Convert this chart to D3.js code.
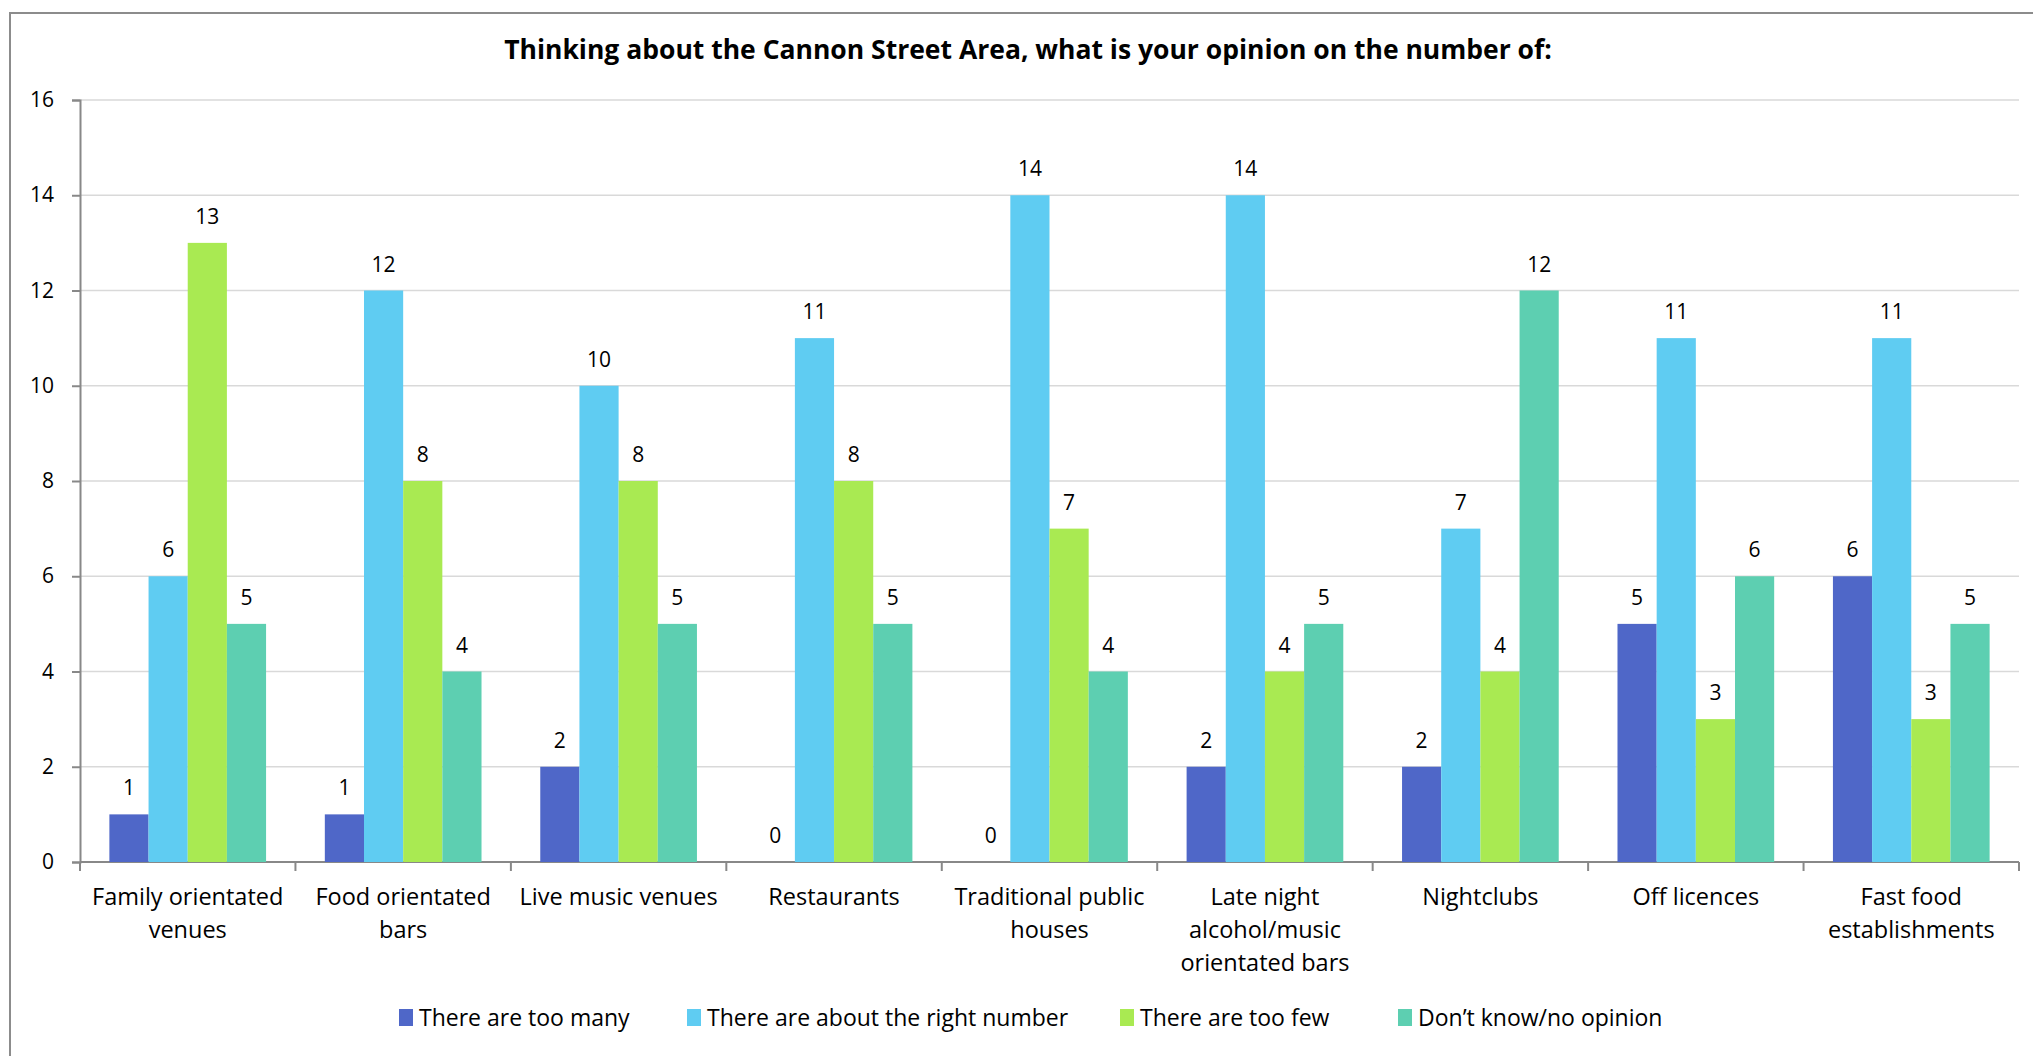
<!DOCTYPE html>
<html>
<head>
<meta charset="utf-8">
<script src="https://cdn.jsdelivr.net/npm/d3@7"></script>
<style>
  body { margin: 0; background: #fff; }
  svg { display: block; font-family: "Open Sans", sans-serif; }
</style>
</head>
<body>
<svg id="chart"></svg>
<script>
// categories (each one split into its printed lines)
var categories = [
    ["Family orientated", "venues"],
    ["Food orientated", "bars"],
    ["Live music venues"],
    ["Restaurants"],
    ["Traditional public", "houses"],
    ["Late night", "alcohol/music", "orientated bars"],
    ["Nightclubs"],
    ["Off licences"],
    ["Fast food", "establishments"]
];
var seriesNames = ["There are too many", "There are about the right number", "There are too few", "Don\u2019t know/no opinion"];
var tooMany    = [1, 1, 2, 0, 0, 2, 2, 5, 6];
var rightNum   = [6, 12, 10, 11, 14, 14, 7, 11, 11];
var tooFew     = [13, 8, 8, 8, 7, 4, 4, 3, 3];
var dontKnow   = [5, 4, 5, 5, 4, 5, 12, 6, 5];
var yTicks     = [0, 2, 4, 6, 8, 10, 12, 14, 16];
var colors     = ["#4f67c8", "#5fccf2", "#a9ea52", "#5dcfb1"];

var title = "Thinking about the Cannon Street Area, what is your opinion on the number of:";

var width = 2033, height = 1056;
var margin = {top: 100, left: 80, right: 14, bottom: 194};

var svg = d3.select("#chart")
    .attr("width", width)
    .attr("height", height);

// outer frame of the embedded chart (runs past the page edges)
svg.append("rect")
    .attr("x", 10).attr("y", 13)
    .attr("width", width + 20).attr("height", height + 20)
    .attr("fill", "none")
    .attr("stroke", "#8c8c8c")
    .attr("stroke-width", 2);

var keys = categories.map(function (c) { return c.join(" "); });
var series = [tooMany, rightNum, tooFew, dontKnow];

var x0 = d3.scaleBand()
    .domain(keys)
    .range([margin.left, width - margin.right])
    .paddingInner(0).paddingOuter(0);

var x1 = d3.scaleBand()
    .domain(d3.range(series.length))
    .range([0, x0.bandwidth()])
    .paddingInner(0).paddingOuter(0.75);

var y = d3.scaleLinear()
    .domain([0, 16])
    .range([height - margin.bottom, margin.top]);

// gridlines
svg.append("g")
    .selectAll("line")
    .data(yTicks.filter(function (d) { return d > 0; }))
    .enter().append("line")
    .attr("x1", margin.left).attr("x2", width - margin.right)
    .attr("y1", function (d) { return y(d); })
    .attr("y2", function (d) { return y(d); })
    .attr("stroke", "#d9d9d9")
    .attr("stroke-width", 1.5);

// y axis
var yAxis = svg.append("g")
    .attr("transform", "translate(" + margin.left + ",0)")
    .call(d3.axisLeft(y).tickValues(yTicks).tickSize(8).tickPadding(18));
yAxis.select(".domain").attr("stroke", "#888").attr("stroke-width", 2);
yAxis.selectAll(".tick line").attr("stroke", "#888").attr("stroke-width", 2);
yAxis.selectAll("text")
    .style("font-size", "21px")
    .attr("fill", "#000")
    .attr("font-family", "Open Sans");

// x axis: line plus ticks at band edges
var xAxis = svg.append("g");
xAxis.append("line")
    .attr("x1", margin.left).attr("x2", width - margin.right)
    .attr("y1", y(0)).attr("y2", y(0))
    .attr("stroke", "#888").attr("stroke-width", 2);
xAxis.selectAll(".edge")
    .data(keys.concat(["end"]))
    .enter().append("line")
    .attr("class", "edge")
    .attr("x1", function (d, i) { return i < keys.length ? x0(d) : width - margin.right; })
    .attr("x2", function (d, i) { return i < keys.length ? x0(d) : width - margin.right; })
    .attr("y1", y(0)).attr("y2", y(0) + 9)
    .attr("stroke", "#888").attr("stroke-width", 2);

// category labels
xAxis.selectAll(".cat")
    .data(categories)
    .enter().append("text")
    .attr("class", "cat")
    .attr("text-anchor", "middle")
    .style("font-size", "23.5px")
    .attr("fill", "#000")
    .each(function (d, i) {
        var t = d3.select(this);
        d.forEach(function (line, j) {
            t.append("tspan")
                .attr("x", x0(keys[i]) + x0.bandwidth() / 2)
                .attr("y", y(0) + 43 + j * 33)
                .text(line);
        });
    });

// bars
var groups = svg.selectAll(".grp")
    .data(keys)
    .enter().append("g")
    .attr("class", "grp")
    .attr("transform", function (d) { return "translate(" + x0(d) + ",0)"; });

groups.selectAll("rect")
    .data(function (d, i) {
        return series.map(function (s, k) { return {k: k, value: s[i]}; });
    })
    .enter().append("rect")
    .attr("x", function (d) { return x1(d.k); })
    .attr("y", function (d) { return y(d.value); })
    .attr("width", x1.bandwidth())
    .attr("height", function (d) { return y(0) - y(d.value); })
    .attr("fill", function (d) { return colors[d.k]; });

groups.selectAll(".val")
    .data(function (d, i) {
        return series.map(function (s, k) { return {k: k, value: s[i]}; });
    })
    .enter().append("text")
    .attr("class", "val")
    .attr("x", function (d) { return x1(d.k) + x1.bandwidth() / 2; })
    .attr("y", function (d) { return y(d.value) - 19; })
    .attr("text-anchor", "middle")
    .style("font-size", "21px")
    .attr("fill", "#000")
    .text(function (d) { return d.value; });

// title
svg.append("text")
    .attr("x", 1028)
    .attr("y", 59)
    .attr("text-anchor", "middle")
    .style("font-size", "26.5px")
    .style("font-weight", "bold")
    .attr("fill", "#000")
    .text(title);

// legend
var legendX = [399, 687, 1120, 1398];
var legend = svg.selectAll(".leg")
    .data(seriesNames)
    .enter().append("g")
    .attr("class", "leg")
    .attr("transform", function (d, i) { return "translate(" + legendX[i] + ",1018)"; });
legend.append("rect")
    .attr("x", 0).attr("y", -9)
    .attr("width", 14).attr("height", 17)
    .attr("fill", function (d, i) { return colors[i]; });
legend.append("text")
    .attr("x", 20).attr("y", 8)
    .style("font-size", "23px")
    .attr("fill", "#000")
    .text(function (d) { return d; });
</script>
</body>
</html>
